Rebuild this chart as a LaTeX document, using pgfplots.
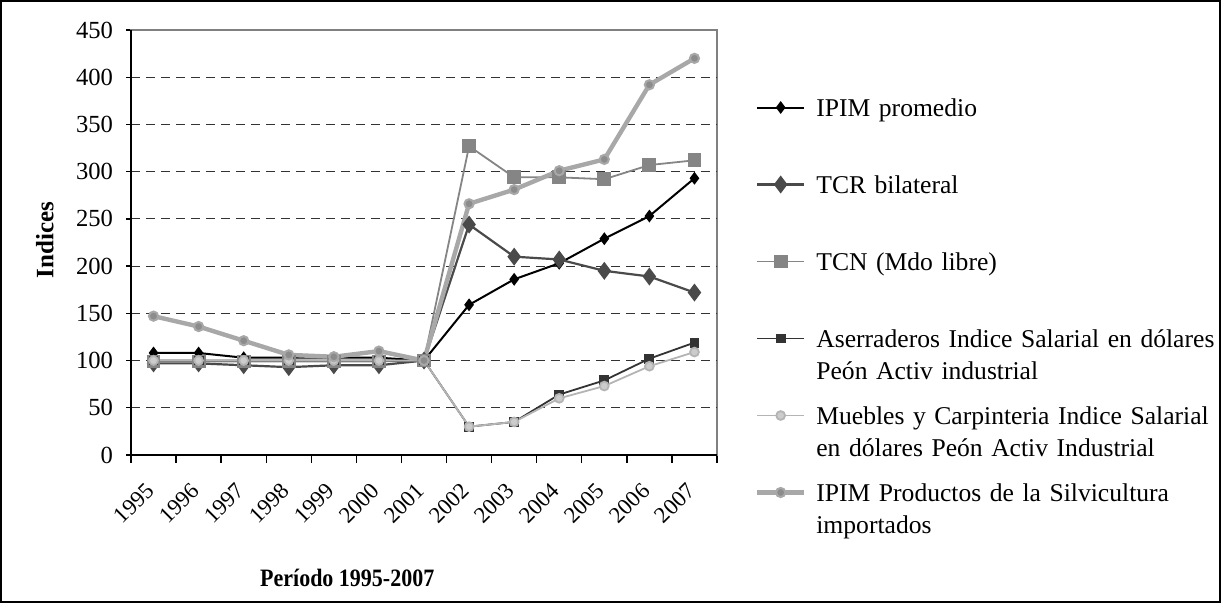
\documentclass[border=0pt]{standalone}
\usepackage{pgfplots}
\pgfplotsset{compat=1.18}
\usepackage{fontspec}
\setmainfont{Liberation Serif}
\definecolor{cIPIM}{HTML}{000000}
\definecolor{cTCR}{HTML}{4A4A4A}
\definecolor{cTCN}{HTML}{858585}
\definecolor{cAser}{HTML}{333333}
\definecolor{cMueb}{HTML}{B4B4B4}
\definecolor{cSilv}{HTML}{A8A8A8}
\begin{document}
\begin{tikzpicture}
\path[use as bounding box] (0pt,0pt) rectangle (610.5pt,301.5pt);
\draw[line width=0.8pt] (0.4pt,0.4pt) rectangle (610.1pt,301.1pt);
\begin{axis}[
  at={(65.5pt,74pt)}, anchor=south west,
  scale only axis, width=293pt, height=212.5pt,
  xmin=-0.5, xmax=12.5, ymin=0, ymax=450,
  xtick={0,...,12},
  xticklabels={1995,1996,1997,1998,1999,2000,2001,2002,2003,2004,2005,2006,2007},
  major x tick style={draw=none},
  minor xtick={-0.5,0.5,...,12.5},
  minor x tick style={black, line width=0.7pt},
  minor tick length=4pt,
  ytick={0,50,...,450},
  y tick style={black, line width=0.7pt},
  major tick length=2.5pt,
  tick align=outside, xtick pos=bottom, ytick pos=left,
  extra y ticks={50,100,...,400},
  extra y tick labels={},
  extra y tick style={grid=major, major tick length=0pt},
  major grid style={black!80, dash pattern=on 4.5pt off 3pt, line width=0.6pt},
  axis line style={draw=black!50, line width=0.7pt},
  /pgf/number format/assume math mode=true,
  tick label style={font=\fontsize{12.3}{14}\selectfont},
  xticklabel style={font=\fontsize{11.4}{14}\selectfont, yshift=-10.5pt, xshift=-4.5pt, rotate=45, anchor=north east, inner sep=0pt},
  yticklabel style={xshift=-3pt},
  ylabel={\textbf{Indices}},
  ylabel style={font=\fontsize{12.5}{14}\selectfont, at={(axis description cs:-0.147,0.506)}, anchor=center},
  xlabel={\textbf{Período 1995-2007}},
  xlabel style={font=\fontsize{12.5}{14}\selectfont, at={(axis description cs:0.369,-0.289)}, anchor=center, xscale=0.88},
  clip=false,
  legend style={draw=none, fill=none, inner sep=0pt, outer sep=0pt,
    at={(axis description cs:1.0648,0.8435)}, anchor=north west,
    font=\fontsize{12.8}{16}\selectfont, row sep=8.5pt, column sep=5pt,
    nodes={inner sep=0pt, text width=205pt, align=left, text height=10pt, text depth=20pt}},
  legend cell align=left,
  legend image code/.code={\draw[yshift=9.5pt,mark repeat=2,mark phase=2,#1] plot coordinates {(0pt,0pt) (11.75pt,0pt) (23.5pt,0pt)};},
]
\addplot[color=cIPIM, line width=1pt, mark=diamond*, mark size=2.4pt, mark options={solid, fill=cIPIM}]
coordinates {(0,108)(1,108)(2,103)(3,103)(4,103)(5,103)(6,100)(7,159)(8,186)(9,203)(10,229)(11,253)(12,293)};
\addlegendentry{IPIM promedio}
\addplot[color=cTCR, line width=1.1pt, mark=diamond*, mark size=3.6pt, mark options={solid, fill=cTCR}]
coordinates {(0,97)(1,97)(2,95)(3,93)(4,95)(5,95)(6,100)(7,244)(8,210)(9,207)(10,195)(11,189)(12,172)};
\addlegendentry{TCR bilateral}
\addplot[color=cTCN, line width=0.9pt, mark=square*, mark size=3pt, mark options={solid, fill=cTCN}]
coordinates {(0,99)(1,99)(2,99)(3,99)(4,99)(5,99)(6,100)(7,327)(8,294)(9,294)(10,292)(11,307)(12,312)};
\addlegendentry{TCN (Mdo libre)}
\addplot[color=cAser, line width=0.9pt, mark=square*, mark size=2pt, mark options={solid, fill=cAser}]
coordinates {(0,100)(1,100)(2,100)(3,100)(4,100)(5,100)(6,100)(7,30)(8,35)(9,64)(10,79)(11,102)(12,119)};
\addlegendentry{Aserraderos Indice Salarial en dólares\\Peón Activ industrial}
\addplot[color=cMueb, line width=0.9pt, mark=*, mark size=2.2pt, mark options={solid, fill=black!20, draw=cMueb}]
coordinates {(0,100)(1,100)(2,100)(3,100)(4,100)(5,100)(6,100)(7,30)(8,35)(9,60)(10,73)(11,94)(12,109)};
\addlegendentry{Muebles y Carpinteria Indice Salarial\\en dólares Peón Activ Industrial}
\addplot[color=cSilv, line width=2.2pt, mark=*, mark size=2.3pt, mark options={solid, fill=black!45, draw=cSilv, line width=1pt}]
coordinates {(0,147)(1,136)(2,121)(3,106)(4,104)(5,110)(6,100)(7,266)(8,281)(9,301)(10,313)(11,392)(12,420)};
\addlegendentry{IPIM Productos de la Silvicultura\\importados}
\draw[black, line width=0.8pt] (rel axis cs:0,1) -- (rel axis cs:0,0) -- (rel axis cs:1,0);
\end{axis}
\end{tikzpicture}
\end{document}
